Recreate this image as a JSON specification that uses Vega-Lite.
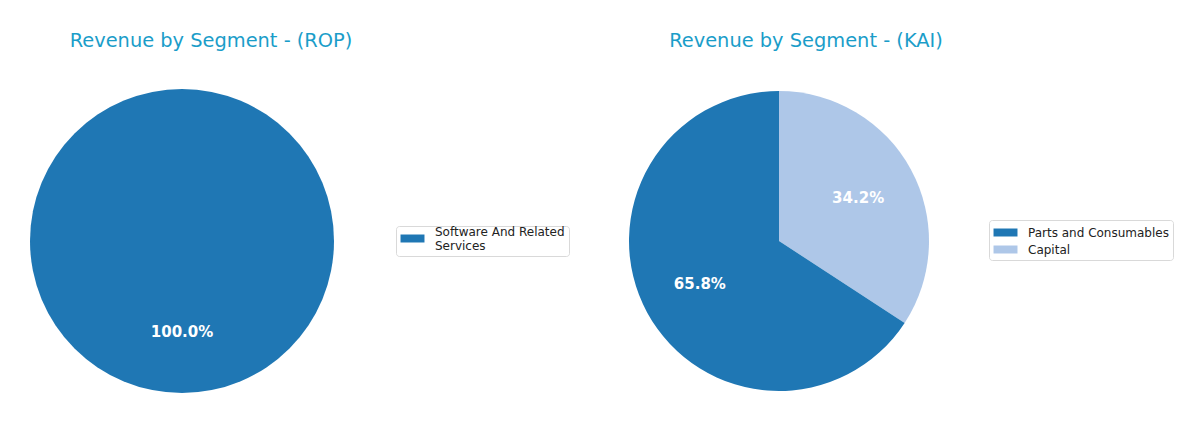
{
  "$schema": "https://vega.github.io/schema/vega-lite/v6.json",
  "background": "#ffffff",
  "padding": {"left": 30, "top": 30, "right": 0, "bottom": 0},
  "spacing": 57,
  "config": {
    "font": "DejaVu Sans",
    "view": {"stroke": null},
    "title": {"fontSize": 19.4, "fontWeight": "normal", "color": "#1a9dc9", "font": "DejaVu Sans", "offset": 38},
    "legend": {
      "labelFont": "DejaVu Sans",
      "labelFontSize": 12,
      "labelColor": "#222222",
      "strokeColor": "#d9d9d9",
      "cornerRadius": 3,
      "padding": 4,
      "symbolType": "M-1.41,-0.47L1.41,-0.47L1.41,0.47L-1.41,0.47Z",
      "symbolSize": 289,
      "symbolStrokeWidth": 0,
      "symbolOffset": 4,
      "rowPadding": 2,
      "labelOffset": 14
    }
  },
  "datasets": {
    "rop": [
      {"segment": "Software And Related Services", "share": 100.0, "label": "100.0%", "order": 1}
    ],
    "kai": [
      {"segment": "Capital", "share": 34.2, "label": "34.2%", "order": 1},
      {"segment": "Parts and Consumables", "share": 65.8, "label": "65.8%", "order": 2}
    ]
  },
  "hconcat": [
    {
      "title": {"text": "Revenue by Segment - (ROP)", "dx": 29},
      "width": 304,
      "height": 304,
      "data": {"name": "rop"},
      "encoding": {
        "theta": {"field": "share", "type": "quantitative", "stack": true},
        "order": {"field": "order", "type": "quantitative"}
      },
      "layer": [
        {
          "mark": {"type": "arc", "outerRadius": 152},
          "encoding": {
            "color": {
              "field": "segment",
              "type": "nominal",
              "scale": {"domain": ["Software And Related Services"], "range": ["#1f77b4"]},
              "legend": {
                "title": null,
                "orient": "none",
                "legendX": 366,
                "legendY": 137,
                "labelBaseline": "bottom",
                "labelExpr": "datum.label == 'Software And Related Services' ? ['Software And Related', 'Services'] : datum.label"
              }
            }
          }
        },
        {
          "mark": {"type": "text", "radius": 91, "fontSize": 15, "fontWeight": "bold", "color": "#ffffff", "font": "DejaVu Sans"},
          "encoding": {
            "text": {"field": "label", "type": "nominal"}
          }
        }
      ]
    },
    {
      "title": {"text": "Revenue by Segment - (KAI)", "dx": 27},
      "width": 304,
      "height": 304,
      "data": {"name": "kai"},
      "encoding": {
        "theta": {"field": "share", "type": "quantitative", "stack": true},
        "order": {"field": "order", "type": "quantitative"}
      },
      "layer": [
        {
          "mark": {"type": "arc", "outerRadius": 150},
          "encoding": {
            "color": {
              "field": "segment",
              "type": "nominal",
              "scale": {"domain": ["Parts and Consumables", "Capital"], "range": ["#1f77b4", "#aec7e8"]},
              "legend": {
                "title": null,
                "orient": "none",
                "legendX": 362,
                "legendY": 131
              }
            }
          }
        },
        {
          "mark": {"type": "text", "radius": 90, "fontSize": 15, "fontWeight": "bold", "color": "#ffffff", "font": "DejaVu Sans"},
          "encoding": {
            "text": {"field": "label", "type": "nominal"}
          }
        }
      ]
    }
  ],
  "resolve": {"scale": {"color": "independent", "theta": "independent"}, "legend": {"color": "independent"}}
}
